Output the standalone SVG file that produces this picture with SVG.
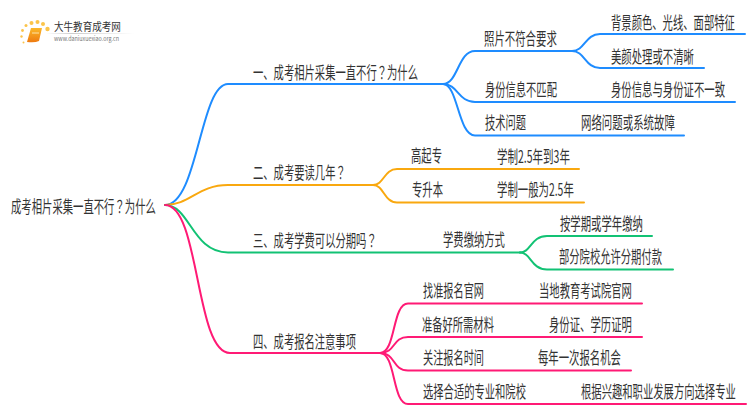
<svg xmlns="http://www.w3.org/2000/svg" width="750" height="410" viewBox="0 0 750 410">
<style>
text{font-family:"Noto Sans CJK SC","Noto Sans",sans-serif;font-size:17px;fill:#333;text-anchor:start}
tspan.q{font-family:"Noto Sans CJK TC","Noto Sans",sans-serif}
.c path{fill:none;stroke-width:2;stroke-linecap:round}
.b path{stroke:#1e8cff}.o path{stroke:#f9a80f}.g path{stroke:#12c274}.p path{stroke:#ff1a75}
</style>
<defs><linearGradient id="lg" x1="0" x2="1" y1="0" y2="0"><stop offset="0" stop-color="#ccc" stop-opacity="0"/><stop offset=".3" stop-color="#ccc"/><stop offset="1" stop-color="#ccc" stop-opacity="0"/></linearGradient>
<linearGradient id="bk" x1="0" x2="0" y1="0" y2="1"><stop offset="0" stop-color="#fbb829"/><stop offset="1" stop-color="#ee7a10"/></linearGradient></defs>
<rect width="750" height="410" fill="#fff"/>
<g id="logo">
<g fill="#fbc44a"><circle cx="47.500" cy="29" r="2.200"/><circle cx="43" cy="24" r="2"/><circle cx="37.500" cy="22" r="2"/><circle cx="31.500" cy="23" r="2"/><circle cx="26" cy="25.500" r="1.500"/><circle cx="22.500" cy="30.500" r="1.400"/><circle cx="21.500" cy="36.500" r="1.200"/><circle cx="23.500" cy="42.500" r="1"/></g>
<path d="M31,28H42L39,41Q35,43 27,42Z" fill="url(#bk)"/><path d="M32,33H39" stroke="#fde3a7" stroke-width="1"/>
<text transform="matrix(.87 0 0 1 54 31)" style="font-size:11px">大牛教育成考网</text>
<rect x="46" y="33" width="88" height="1" fill="url(#lg)"/>
<text transform="matrix(.9 0 0 1 54 41)" style="font-size:6px;fill:#777">www.daniuxuexiao.org.cn</text>
</g>
<g id="connectors" class="c">
<g class="b"><path d="M165,205C198,205 200,84 228,84H443"/><path d="M443,84C458,84 458,51 475,51H572"/><path d="M443,84C458,84 458,102 475,102H735"/><path d="M443,84C458,84 458,135.500 475,135.500H684"/><path d="M572,51C585,51 585,34 600,34H745"/><path d="M572,51C585,51 585,68 600,68H704"/></g>
<g class="o"><path d="M165,205C190,205 198,185 228,185H373"/><path d="M373,185C384,185 384,169 397,169H579"/><path d="M373,185C384,185 384,202.500 397,202.500H584"/></g>
<g class="g"><path d="M165,205C190,205 192,252.500 228,252.500H520"/><path d="M520,252.500C531,252.500 531,236 547,236H652"/><path d="M520,252.500C531,252.500 531,269.500 547,269.500H673"/></g>
<g class="p"><path d="M165,205C200,205 195,353 230,353H380"/><path d="M380,353C396,353 392,303.500 408,303.500H642"/><path d="M380,353C396,353 392,337 408,337H642"/><path d="M380,353C396,353 392,370.500 408,370.500H631"/><path d="M380,353C396,353 392,404 408,404H746"/></g>
</g>
<g id="root"><text transform="matrix(.609 0 0 1 11 212.500)">成考相片采集一直不行<tspan class="q">？</tspan>为什么</text></g>
<g id="n1"><text transform="matrix(.607 0 0 1 253 78.500)">一、成考相片采集一直不行<tspan class="q">？</tspan>为什么</text></g>
<g id="n1a"><text transform="matrix(.613 0 0 1 484 44.500)">照片不符合要求</text></g>
<g id="n1a1"><text transform="matrix(.608 0 0 1 611 28.500)">背景颜色、光线、面部特征</text></g>
<g id="n1a2"><text transform="matrix(.61 0 0 1 611 62.500)">美颜处理或不清晰</text></g>
<g id="n1b"><text transform="matrix(.605 0 0 1 485 95.500)">身份信息不匹配</text></g>
<g id="n1b1"><text transform="matrix(.61 0 0 1 611 95.500)">身份信息与身份证不一致</text></g>
<g id="n1c"><text transform="matrix(.603 0 0 1 485 128.500)">技术问题</text></g>
<g id="n1c1"><text transform="matrix(.614 0 0 1 581 128.500)">网络问题或系统故障</text></g>
<g id="n2"><text transform="matrix(.607 0 0 1 253 178.500)">二、成考要读几年<tspan class="q">？</tspan></text></g>
<g id="n2a"><text transform="matrix(.608 0 0 1 411 161.500)">高起专</text></g>
<g id="n2a1"><text transform="matrix(.618 0 0 1 497 162.500)">学制2.5年到3年</text></g>
<g id="n2b"><text transform="matrix(.608 0 0 1 412 195.500)">专升本</text></g>
<g id="n2b1"><text transform="matrix(.612 0 0 1 497 195.500)">学制一般为2.5年</text></g>
<g id="n3"><text transform="matrix(.607 0 0 1 253 246.500)">三、成考学费可以分期吗<tspan class="q">？</tspan></text></g>
<g id="n3a"><text transform="matrix(.608 0 0 1 443 245.500)">学费缴纳方式</text></g>
<g id="n3a1"><text transform="matrix(.61 0 0 1 560 229.500)">按学期或学年缴纳</text></g>
<g id="n3a2"><text transform="matrix(.606 0 0 1 559 262.500)">部分院校允许分期付款</text></g>
<g id="n4"><text transform="matrix(.606 0 0 1 253 347.500)">四、成考报名注意事项</text></g>
<g id="n4a"><text transform="matrix(.598 0 0 1 423 296.500)">找准报名官网</text></g>
<g id="n4a1"><text transform="matrix(.608 0 0 1 539 296.500)">当地教育考试院官网</text></g>
<g id="n4b"><text transform="matrix(.605 0 0 1 422 330.500)">准备好所需材料</text></g>
<g id="n4b1"><text transform="matrix(.61 0 0 1 549 330.500)">身份证、学历证明</text></g>
<g id="n4c"><text transform="matrix(.598 0 0 1 423 363.500)">关注报名时间</text></g>
<g id="n4c1"><text transform="matrix(.61 0 0 1 538 363.500)">每年一次报名机会</text></g>
<g id="n4d"><text transform="matrix(.606 0 0 1 423 397.500)">选择合适的专业和院校</text></g>
<g id="n4d1"><text transform="matrix(.608 0 0 1 581 397.500)">根据兴趣和职业发展方向选择专业</text></g>
</svg>
